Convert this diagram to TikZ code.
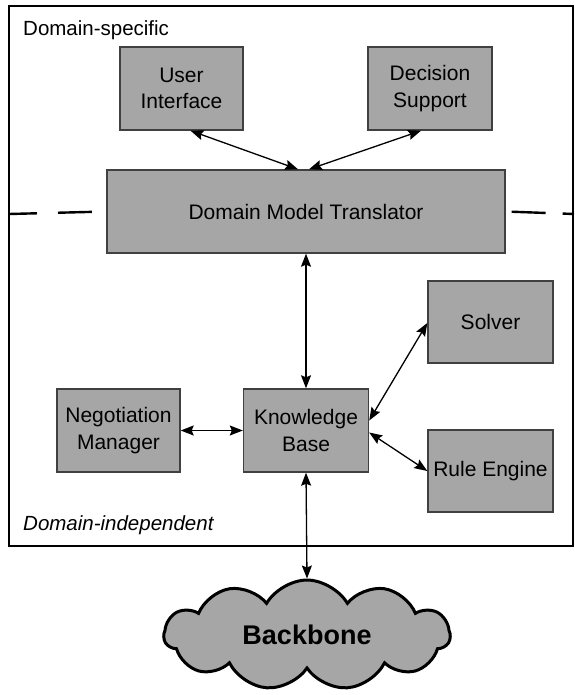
\documentclass[tikz,border=0pt]{standalone}
\usepackage{fontspec}
\setmainfont{Liberation Sans}
\usetikzlibrary{arrows.meta,shapes.symbols,calc}
\definecolor{boxfill}{gray}{0.65}
\definecolor{boxline}{gray}{0.25}
\begin{document}
\begin{tikzpicture}[x=1pt,y=-1pt,
  box/.style={draw=boxline,line width=1.4pt,fill=boxfill,align=center,
    inner sep=0pt,font=\fontsize{21}{26.5}\selectfont},
  link/.style={line width=1.3pt,{Stealth[length=13pt,width=10pt,inset=2pt]}-{Stealth[length=13pt,width=10pt,inset=2pt]}},
  divider/.style={line width=2.4pt},
  label/.style={anchor=west,inner sep=0pt,font=\fontsize{20.5}{24}\selectfont}]
\useasboundingbox (0,0) rectangle (574,695);
% frame
\draw[line width=1.8pt] (9,6) rectangle (573,546);
\node[label] (ds-label) at (23,30) {Domain-specific};
\node[label] (di-label) at (23,525) {\itshape Domain-independent};
% boxes
\node[box,minimum width=123,minimum height=83] (ui) at (181.5,88.5) {User\\Interface};
\node[box,minimum width=124,minimum height=83] (ds) at (430,88.5) {Decision\\Support};
\node[box,minimum width=398,minimum height=83] (dmt) at (306,211.5) {Domain Model Translator};
\node[box,minimum width=125,minimum height=82] (solver) at (490.5,322) {Solver};
\node[box,minimum width=123,minimum height=83] (nm) at (118.5,430.5) {Negotiation\\Manager};
\node[box,minimum width=125,minimum height=83] (kb) at (306,430.5) {Knowledge\\Base};
\node[box,minimum width=125,minimum height=82] (re) at (490.5,471) {Rule Engine};
\node[cloud,cloud puffs=11,cloud puff arc=120,aspect=2.7,draw=black,line width=3pt,fill=boxfill,
  minimum width=286,minimum height=110,inner sep=0pt,
  font=\bfseries\fontsize{27}{30}\selectfont] (bb) at (307,635) {Backbone};
% dashed divider
\coordinate (dl) at (9,214);
\coordinate (dr) at (574,214);
\draw[divider,dash pattern=on 28pt off 21pt on 34pt off 40pt] (dl) -- (dmt.west);
\draw[divider,dash pattern=on 0pt off 6pt on 34pt off 17pt on 20pt off 10pt] (dmt.east) -- (dr);
% connectors
\draw[link] ($(ui.south)+(9,0)$) -- ($(dmt.north)+(-8,0)$);
\draw[link] ($(ds.south)+(-9,0)$) -- ($(dmt.north)+(3,0)$);
\draw[link] (dmt.south) -- (kb.north);
\draw[link] (nm.east) -- (kb.west);
\draw[link] ($(kb.east)+(0,-10)$) -- ($(solver.west)+(0,1)$);
\draw[link] ($(kb.east)+(0,2)$) -- (re.west);
\draw[link] (kb.south) -- (bb.north);
\end{tikzpicture}
\end{document}
